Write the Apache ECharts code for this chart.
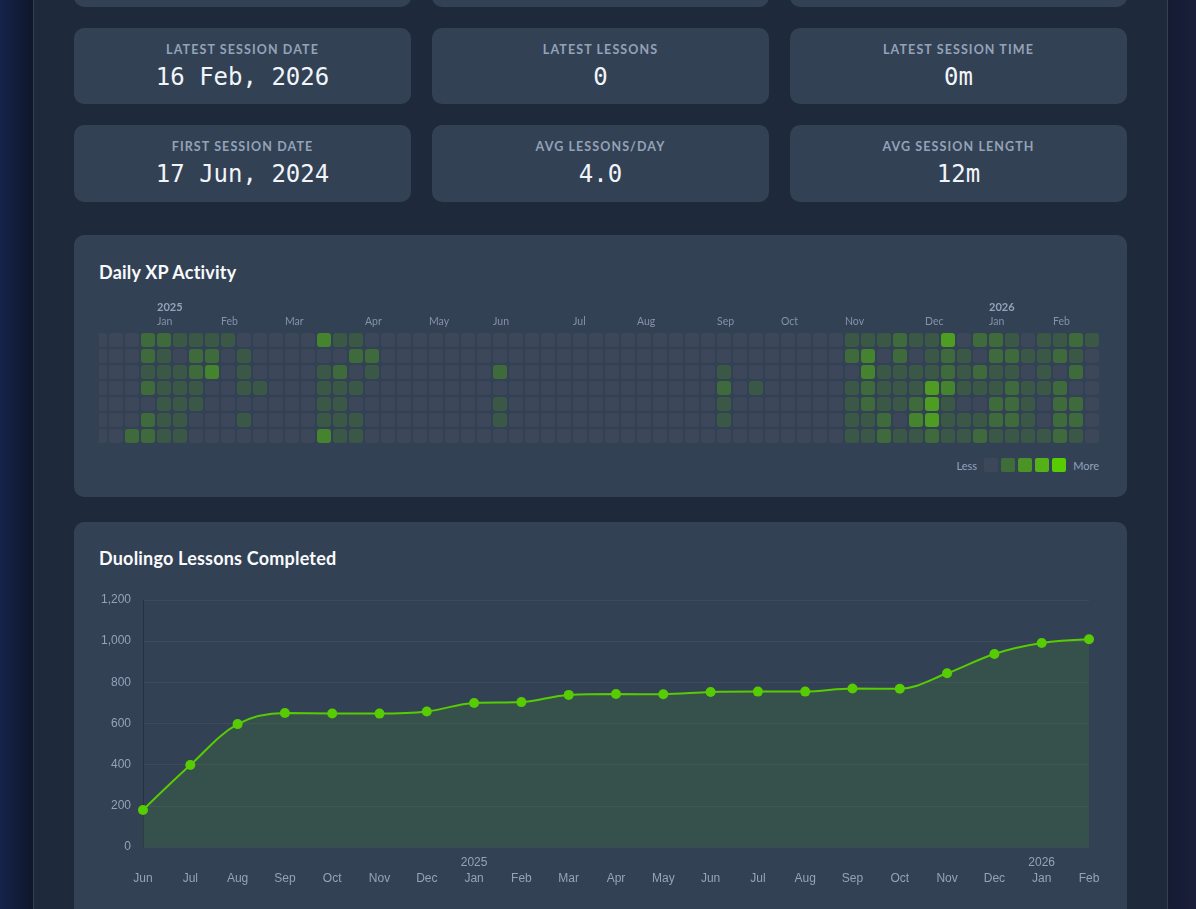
<!DOCTYPE html>
<html>
<head>
<meta charset="utf-8">
<script src="https://cdn.jsdelivr.net/npm/echarts@6/dist/echarts.min.js"></script>
<style>
  html, body { margin: 0; padding: 0; width: 1196px; height: 909px; overflow: hidden; }
  body { background: linear-gradient(90deg, #15234a 0px, #0e1629 34px, #151b33 1168px, #1a1e3a 1196px); font-family: Lato, "Noto Sans", sans-serif; position: relative; }
  .panel { position: absolute; left: 33px; top: -40px; width: 1133px; height: 1000px; background: #1e293b; border-left: 1px solid #334155; border-right: 1px solid #334155; }
  .card { position: absolute; background: #334155; border-radius: 10px; }
  .stat { width: 337px; text-align: center; }
  .stat .lbl { position: absolute; left: 0; right: 0; top: 14px; font-size: 12.5px; font-weight: 700; letter-spacing: 1.1px; color: #94a3b8; line-height: 16px; }
  .stat .val { position: absolute; left: 0; right: 0; top: 34px; font-family: "DejaVu Sans Mono", "Liberation Mono", monospace; font-size: 24px; color: #f1f5f9; line-height: 30px; }
  .title { position: absolute; left: 25px; font-size: 18px; font-weight: 700; color: #f8fafc; line-height: 24px; letter-spacing: 0.2px; }
  .legend { position: absolute; right: 28px; top: 223px; height: 14px; display: flex; align-items: center; font-size: 11px; color: #94a3b8; }
  .legend .sw { width: 14px; height: 14px; border-radius: 2px; margin-right: 3px; }
  .legend .less { margin-right: 7px; }
  .legend .more { margin-left: 4px; }
  #heatWrap { position: absolute; left: 99px; top: 295px; width: 1001px; height: 150px; overflow: hidden; }
  #heat { position: absolute; left: -6px; top: 0; width: 1007px; height: 150px; }
</style>
</head>
<body>
<div class="panel"></div>
<div id="cards"></div>
<div class="card" id="hmCard" style="left:74px; top:235px; width:1053px; height:262px;">
  <div class="title" style="top:25px;">Daily XP Activity</div>
  <div class="legend" id="legend"></div>
</div>
<div id="heatWrap"><div id="heat"></div></div>
<div class="card" style="left:74px; top:522px; width:1053px; height:430px;">
  <div class="title" style="top:24px;">Duolingo Lessons Completed</div>
</div>
<div id="line" style="position:absolute; left:74px; top:580px; width:1053px; height:329px;"></div>
<script>
// ---------- data ----------
const statLabels = ['LATEST SESSION DATE', 'LATEST LESSONS', 'LATEST SESSION TIME', 'FIRST SESSION DATE', 'AVG LESSONS/DAY', 'AVG SESSION LENGTH'];
const statValues = ['16 Feb, 2026', '0', '0m', '17 Jun, 2024', '4.0', '12m'];

// heatmap: one string per week column, 7 digits (rows top→bottom), activity level 0-4
const weekLevels = [
  '0000000','0000000','0000002','2212022','2111111','1011111','1221100','1230000','1000000','0111010',
  '0001000','0000000','0000000','0000000','3011113','1021111','1201011','0210000','0000000','0000000',
  '0000000','0000000','0000000','0000000','0000000','0020110','0000000','0000000','0000000','0000000',
  '0000000','0000000','0000000','0000000','0000000','0000000','0000000','0000000','0000000','0012110',
  '0000000','0001000','0000000','0000000','0000000','0000000','0000000','1201111','1332211','1011122',
  '2211101','1011231','1114442','4223111','0111011','2021012','2211221','1212221','0101111','1111001',
  '1202222','2120221','1000000'
];
const monthCols  = [4, 8, 12, 17, 21, 25, 30, 34, 39, 43, 47, 52, 56, 60];
const monthNames = ['Jan','Feb','Mar','Apr','May','Jun','Jul','Aug','Sep','Oct','Nov','Dec','Jan','Feb'];
const yearCols   = [4, 56];
const yearNames  = ['2025', '2026'];

// line chart
const lineMonths = ['Jun','Jul','Aug','Sep','Oct','Nov','Dec','Jan','Feb','Mar','Apr','May','Jun','Jul','Aug','Sep','Oct','Nov','Dec','Jan','Feb'];
const lineYears  = ['','','','','','','','2025','','','','','','','','','','','','2026',''];
const lessons    = [180, 398, 597, 651, 649, 648, 658, 700, 704, 739, 743, 742, 753, 755, 755, 770, 769, 844, 938, 991, 1009];
const yTicks     = { min: 0, max: 1200, step: 200 };

// ---------- styles ----------
const levelColors  = ['#3c475a', '#3b5846', '#3f6a3c', '#46832f', '#4e9c22'];
const legendColors = ['#3c475a', '#3f6d3a', '#4b9327', '#54b117', '#58cc02'];

// ---------- stat cards ----------
const cardsEl = document.getElementById('cards');
const colX = [74, 432, 790];
colX.forEach(x => {
  const c = document.createElement('div');
  c.className = 'card';
  c.style.cssText = `left:${x}px; top:-70px; width:337px; height:77px;`;
  cardsEl.appendChild(c);
});
statLabels.forEach((l, i) => {
  const c = document.createElement('div');
  c.className = 'card stat';
  const row = Math.floor(i / 3);
  c.style.cssText = `left:${colX[i % 3]}px; top:${row === 0 ? 28 : 125}px; height:${row === 0 ? 76 : 77}px;`;
  c.innerHTML = `<div class="lbl">${l}</div><div class="val">${statValues[i]}</div>`;
  cardsEl.appendChild(c);
});

// legend
const lg = document.getElementById('legend');
let lgHtml = '<span class="less">Less</span>';
legendColors.forEach(c => { lgHtml += `<div class="sw" style="background:${c}"></div>`; });
lgHtml += '<span class="more">More</span>';
lg.innerHTML = lgHtml;

// ---------- heatmap ----------
const heatData = [];
weekLevels.forEach((s, k) => {
  for (let r = 0; r < 7; r++) heatData.push([k, r, +s[r]]);
});
const xCats = weekLevels.map((_, k) => String(k));
const heat = echarts.init(document.getElementById('heat'), null, { renderer: 'canvas' });
heat.setOption({
  animation: false,
  grid: { left: 0, right: 15, top: 38, bottom: 16, containLabel: false, outerBoundsMode: 'none' },
  xAxis: {
    type: 'category', position: 'top', data: xCats, boundaryGap: false,
    axisLine: { show: false }, axisTick: { show: false }, splitLine: { show: false },
    axisLabel: {
      interval: 0, margin: 5, align: 'left', hideOverlap: false,
      formatter: (v, i) => {
        const mi = monthCols.indexOf(i);
        if (mi < 0) return '';
        const yi = yearCols.indexOf(i);
        return (yi >= 0 ? '{y|' + yearNames[yi] + '}\n' : '') + '{m|' + monthNames[mi] + '}';
      },
      rich: {
        y: { fontFamily: 'Lato', fontSize: 11, fontWeight: 700, color: '#94a3b8', lineHeight: 15, align: 'left' },
        m: { fontFamily: 'Lato', fontSize: 10.5, color: '#8592a8', lineHeight: 13, align: 'left' }
      }
    }
  },
  yAxis: {
    type: 'category', data: ['0','1','2','3','4','5','6'], inverse: true, boundaryGap: false, show: false
  },
  series: [{
    type: 'custom', clip: false, data: heatData,
    renderItem: (params, api) => {
      const p = api.coord([api.value(0), api.value(1)]);
      return { type: 'rect', shape: { x: p[0], y: p[1], width: 14, height: 14, r: 3 },
               style: { fill: levelColors[api.value(2)] } };
    }
  }]
});

// ---------- line chart ----------
const line = echarts.init(document.getElementById('line'), null, { renderer: 'canvas' });
line.setOption({
  animation: false,
  grid: { left: 69, right: 38, top: 20, bottom: 62, containLabel: false, outerBoundsMode: 'none' },
  xAxis: {
    type: 'category', data: lineMonths, boundaryGap: false,
    axisLine: { show: false }, axisTick: { show: false },
    axisLabel: {
      interval: 0, margin: 8, color: '#94a3b8', fontSize: 12, lineHeight: 16,
      fontFamily: '"Liberation Sans", Arial, sans-serif',
      formatter: (v, i) => lineYears[i] + '\n' + v
    }
  },
  yAxis: {
    type: 'value', min: yTicks.min, max: yTicks.max, interval: yTicks.step,
    axisLine: { show: true, lineStyle: { color: '#263142', width: 1 } },
    axisTick: { show: false },
    splitLine: { lineStyle: { color: '#3d4a5e', width: 1 } },
    axisLabel: {
      margin: 12, color: '#94a3b8', fontSize: 12, fontFamily: '"Liberation Sans", Arial, sans-serif',
      formatter: v => v.toLocaleString('en-US')
    }
  },
  series: [{
    type: 'line', data: lessons, smooth: 0.35,
    symbol: 'circle', symbolSize: 10,
    itemStyle: { color: '#58cc02' },
    lineStyle: { color: '#58cc02', width: 2 },
    areaStyle: { color: 'rgba(88,204,2,0.15)' }
  }]
});
</script>
</body>
</html>
